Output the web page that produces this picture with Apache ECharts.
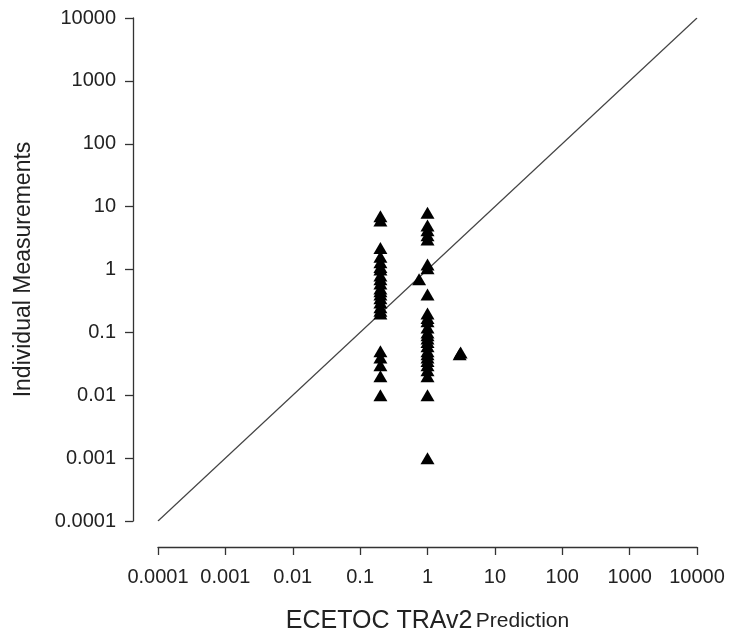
<!DOCTYPE html>
<html>
<head>
<meta charset="utf-8">
<script src="https://cdn.jsdelivr.net/npm/echarts@6/dist/echarts.min.js"></script>
<style>html,body{margin:0;padding:0;background:#fff;}#c{width:729px;height:639px;}</style>
</head>
<body>
<div id="c"></div>
<script>
var tickLabels = ['0.0001','0.001','0.01','0.1','1','10','100','1000','10000'];
var col02X = 0.2;
var col02Y = [7, 6, 2.2, 1.6, 1.3, 1.1, 1, 0.8, 0.7, 0.6, 0.5, 0.45, 0.4, 0.35, 0.3, 0.25, 0.22, 0.2, 0.05, 0.04, 0.03, 0.02, 0.01];
var col1X = 1;
var col1Y = [8, 5, 4.2, 3.5, 3, 1.2, 1.05, 0.4, 0.2, 0.17, 0.15, 0.12, 0.1, 0.09, 0.08, 0.07, 0.06, 0.05, 0.045, 0.04, 0.035, 0.03, 0.025, 0.02, 0.01, 0.001];
var otherPts = [[0.75, 0.7], [3, 0.045], [3.1, 0.048]];
var lineEnds = [[0.0001, 0.0001], [10000, 10000]];

var pts = [];
col02Y.forEach(function(v){ pts.push([col02X, v]); });
col1Y.forEach(function(v){ pts.push([col1X, v]); });
otherPts.forEach(function(p){ pts.push(p); });

function fmt(v){
  var e = Math.round(Math.log10(v));
  return tickLabels[e + 4] || '';
}
var axisCommon = {
  type: 'log', logBase: 10, min: 0.0001, max: 10000, interval: 1,
  axisLine: {show: true, lineStyle: {color: '#333', width: 1.3}},
  axisTick: {show: true, length: 8, lineStyle: {color: '#333', width: 1.3}},
  splitLine: {show: false},
  minorTick: {show: false},
  axisLabel: {formatter: fmt, color: '#222', fontFamily: 'Liberation Sans', fontSize: 20}
};
var chart = echarts.init(document.getElementById('c'), null, {renderer: 'canvas'});
chart.setOption({
  animation: false,
  backgroundColor: '#fff',
  grid: {left: 158, right: 32, top: 18, bottom: 113, containLabel: false},
  xAxis: Object.assign({}, axisCommon, {
    offset: 26,
    axisLabel: Object.assign({}, axisCommon.axisLabel, {margin: 20}),
    name: '{a|ECETOC TRAv2} {b|Prediction}',
    nameLocation: 'middle', nameGap: 62,
    nameTextStyle: {rich: {
      a: {fontFamily: 'Liberation Sans', fontSize: 25, color: '#222'},
      b: {fontFamily: 'Liberation Sans', fontSize: 21, color: '#222'}
    }}
  }),
  yAxis: Object.assign({}, axisCommon, {
    offset: 25,
    axisLabel: Object.assign({}, axisCommon.axisLabel, {margin: 17}),
    name: 'Individual Measurements',
    nameLocation: 'middle', nameGap: 98, nameRotate: 90,
    nameTextStyle: {fontFamily: 'Liberation Sans', fontSize: 23, color: '#222'}
  }),
  series: [
    {type: 'line', data: lineEnds, showSymbol: false, symbol: 'none',
     lineStyle: {color: '#444', width: 1.2}, silent: true, z: 1},
    {type: 'scatter', data: pts, symbol: 'triangle', symbolSize: [14, 12],
     itemStyle: {color: '#000', opacity: 1}, z: 2}
  ]
});
</script>
</body>
</html>
